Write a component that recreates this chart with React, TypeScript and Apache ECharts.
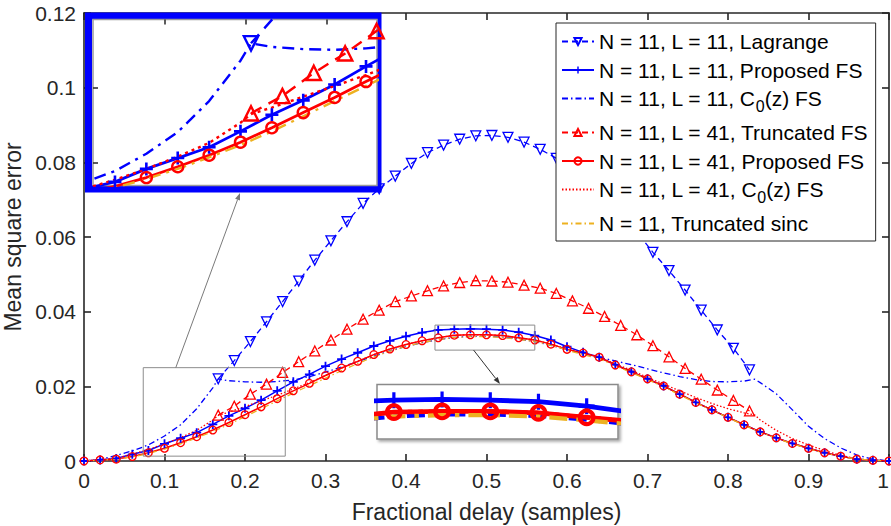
import React, { useEffect, useRef } from "react";
import * as echarts from "echarts";

// ---------------- data ----------------
const X_TICKS = [0, 0.1, 0.2, 0.3, 0.4, 0.5, 0.6, 0.7, 0.8, 0.9, 1];
const Y_TICKS = [0, 0.02, 0.04, 0.06, 0.08, 0.1, 0.12];

const NAMES = [
  "N = 11, L = 11, Lagrange",
  "N = 11, L = 11, Proposed FS",
  "N = 11, L = 11, C0(z) FS",
  "N = 11, L = 41, Truncated FS",
  "N = 11, L = 41, Proposed FS",
  "N = 11, L = 41, C0(z) FS",
  "N = 11, Truncated sinc",
];

// fractional-delay grid of the marked curves
const FD = [
  0, 0.02, 0.04, 0.06, 0.08, 0.1, 0.12, 0.14, 0.16, 0.18, 0.2, 0.22, 0.24, 0.26, 0.28, 0.3, 0.32,
  0.34, 0.36, 0.38, 0.4, 0.42, 0.44, 0.46, 0.48, 0.5, 0.52, 0.54, 0.56, 0.58, 0.6, 0.62, 0.64,
  0.66, 0.68, 0.7, 0.72, 0.74, 0.76, 0.78, 0.8, 0.82, 0.84, 0.86, 0.88, 0.9, 0.92, 0.94, 0.96,
  0.98, 1,
];

const PROP_FS_11 = [
  0, 0.0003, 0.0007, 0.0018, 0.0028, 0.0046, 0.0061, 0.0076, 0.0098, 0.0121, 0.0141, 0.0163,
  0.0188, 0.0212, 0.0232, 0.0254, 0.0273, 0.029, 0.0308, 0.0322, 0.0334, 0.0344, 0.0351, 0.0353,
  0.0354, 0.0353, 0.0351, 0.0345, 0.0336, 0.0324, 0.0306, 0.0291, 0.0278, 0.0258, 0.0239, 0.022,
  0.0201, 0.0179, 0.0157, 0.0137, 0.0117, 0.0097, 0.0078, 0.0062, 0.0047, 0.0034, 0.0022, 0.0013,
  0.0005, 0.0002, 0,
];

const PROP_FS_41 = [
  0, 0.0003, 0.0005, 0.0012, 0.0022, 0.0034, 0.0049, 0.0065, 0.0083, 0.0103, 0.0124, 0.0145,
  0.0167, 0.0188, 0.0208, 0.0229, 0.0249, 0.0267, 0.0285, 0.03, 0.0312, 0.0322, 0.033, 0.0337,
  0.0338, 0.0338, 0.0336, 0.033, 0.0324, 0.0313, 0.0299, 0.0289, 0.0278, 0.0257, 0.0239, 0.022,
  0.0201, 0.0179, 0.0157, 0.0137, 0.0117, 0.0097, 0.0078, 0.0062, 0.0047, 0.0034, 0.0022, 0.0013,
  0.0005, 0.0002, 0,
];

const TRUNC_SINC = [
  0, 0.0002, 0.0005, 0.0011, 0.002, 0.0032, 0.0046, 0.0062, 0.0079, 0.0098, 0.0119, 0.014,
  0.0161, 0.0182, 0.0202, 0.0222, 0.0242, 0.0261, 0.0279, 0.0294, 0.0307, 0.0317, 0.0325, 0.0331,
  0.0333, 0.0333, 0.0331, 0.0326, 0.032, 0.031, 0.0297, 0.0285, 0.0274, 0.0255, 0.0237, 0.0218,
  0.0199, 0.0177, 0.0156, 0.0136, 0.0116, 0.0096, 0.0077, 0.0061, 0.0046, 0.0033, 0.0021, 0.0012,
  0.0005, 0.0002, 0,
];

// grid of the Lagrange / truncated-FS curves (1/6 ... 5/6)
const LAG_X = [
  0.1667, 0.1867, 0.2067, 0.2267, 0.2467, 0.2667, 0.2867, 0.3067, 0.3267, 0.3467, 0.3667, 0.3867,
  0.4067, 0.4267, 0.4467, 0.4667, 0.4867, 0.5067, 0.5267, 0.5467, 0.5667, 0.5867, 0.6067, 0.6267,
  0.6467, 0.6667, 0.6867, 0.7067, 0.7267, 0.7467, 0.7667, 0.7867, 0.8067, 0.8267,
];
const LAGRANGE = [
  0.022, 0.0269, 0.032, 0.0373, 0.0427, 0.0482, 0.0538, 0.059, 0.0641, 0.069, 0.0729, 0.0763,
  0.0797, 0.0826, 0.0846, 0.0862, 0.0871, 0.0872, 0.0867, 0.0854, 0.0835, 0.0811, 0.0783, 0.075,
  0.0712, 0.0668, 0.0614, 0.0559, 0.051, 0.0458, 0.0404, 0.0351, 0.0302, 0.0244,
];
const TRUNC_FS_41 = [
  0.0123, 0.0147, 0.0179, 0.0206, 0.0237, 0.0266, 0.0295, 0.0324, 0.0353, 0.038, 0.0404, 0.0427,
  0.0442, 0.0456, 0.0469, 0.0478, 0.0483, 0.0482, 0.0479, 0.0471, 0.0463, 0.0449, 0.0429, 0.0409,
  0.0387, 0.0363, 0.0338, 0.0309, 0.0279, 0.0248, 0.0219, 0.019, 0.0162, 0.0134,
];

// C0(z) FS curves (kinks at 1/6 and 5/6)
const C0_X = [
  0, 0.02, 0.04, 0.06, 0.08, 0.1, 0.12, 0.14, 0.16, 0.1667, 0.18, 0.2, 0.22, 0.24, 0.26, 0.28,
  0.3, 0.32, 0.34, 0.36, 0.38, 0.4, 0.42, 0.44, 0.46, 0.48, 0.5, 0.52, 0.54, 0.56, 0.58, 0.6,
  0.62, 0.64, 0.66, 0.68, 0.7, 0.72, 0.74, 0.76, 0.78, 0.8, 0.82, 0.8333, 0.84, 0.86, 0.88, 0.9,
  0.92, 0.94, 0.96, 0.98, 1,
];
const C0_FS_11 = [
  0, 0.0004, 0.0015, 0.0027, 0.0043, 0.0067, 0.0097, 0.014, 0.0196, 0.022, 0.0215, 0.0212,
  0.0211, 0.0213, 0.0217, 0.0226, 0.0238, 0.0252, 0.0266, 0.0281, 0.0295, 0.0307, 0.0317, 0.0325,
  0.0331, 0.0334, 0.0334, 0.0332, 0.0327, 0.032, 0.031, 0.0298, 0.0287, 0.0278, 0.0268, 0.0258,
  0.0247, 0.0236, 0.0226, 0.0218, 0.0213, 0.0212, 0.0214, 0.0219, 0.021, 0.018, 0.0137, 0.0093,
  0.006, 0.0035, 0.0016, 0.0005, 0,
];
const C0_FS_41 = [
  0, 0.0003, 0.0008, 0.0018, 0.0031, 0.0046, 0.0063, 0.0082, 0.011, 0.0122, 0.0131, 0.0146,
  0.0161, 0.0176, 0.0193, 0.021, 0.0229, 0.0249, 0.0267, 0.0285, 0.03, 0.0312, 0.0322, 0.033,
  0.0337, 0.0338, 0.0338, 0.0336, 0.033, 0.0324, 0.0313, 0.03, 0.029, 0.0279, 0.026, 0.0243,
  0.0224, 0.0206, 0.0188, 0.017, 0.0154, 0.014, 0.0129, 0.0123, 0.011, 0.0082, 0.006, 0.0043,
  0.0028, 0.0015, 0.0006, 0.0001, 0,
];

// zoom regions (data units)
const BOX_A = { x: [0.0736, 0.25], y: [0.0013, 0.025] };
const INSET_A = { x: [0.066, 0.247], y: [0.0023, 0.0253] };
const INSET_A_XTICKS = [0.112, 0.1636, 0.215];
const INSET_A_YTICKS = [0.0054, 0.0158];
const BOX_B = { x: [0.436, 0.56], y: [0.0297, 0.0364] };
const INSET_B = { x: [0.453, 0.553], y: [0.0301, 0.0374] };

// ---------------- styling ----------------
const BLUE = "#0000FF";
const RED = "#FF0000";
const GOLD = "#EDB120";
const AX = "#262626";
const FONT = "'Liberation Sans', Arial, Helvetica, sans-serif";
const CROSS = "path://M4,0H6V4H10V6H6V10H4V6H0V4H4Z";

const pairs = (xs: number[], ys: number[]) => xs.map((x, i) => [x, ys[i]]);

function seriesFor(ax: number, k: number, mk: number, lw: number, z: number, suffix: string) {
  const base = (i: number) => ({
    name: NAMES[i] + suffix,
    type: "line",
    xAxisIndex: ax,
    yAxisIndex: ax,
    z,
    clip: true,
    silent: true,
    emphasis: { disabled: true },
  });
  const hollow = (c: string) => ({ color: "rgba(255,255,255,0)", borderColor: c, borderWidth: lw });
  return [
    {
      ...base(0),
      data: pairs(LAG_X, LAGRANGE),
      symbol: "triangle",
      symbolRotate: 180,
      symbolSize: mk * 1.1,
      lineStyle: { color: BLUE, width: lw, type: [6 * k, 4 * k] },
      itemStyle: hollow(BLUE),
    },
    {
      ...base(1),
      data: pairs(FD, PROP_FS_11),
      symbol: CROSS,
      symbolSize: mk,
      lineStyle: { color: BLUE, width: lw * 1.15 },
      itemStyle: { color: BLUE },
    },
    {
      ...base(2),
      data: pairs(C0_X, C0_FS_11),
      symbol: "none",
      lineStyle: { color: BLUE, width: lw, type: [6 * k, 3 * k, 1.5 * k, 3 * k] },
    },
    {
      ...base(3),
      data: pairs(LAG_X, TRUNC_FS_41),
      symbol: "triangle",
      symbolSize: mk * 1.1,
      lineStyle: { color: RED, width: lw, type: [6 * k, 4 * k] },
      itemStyle: hollow(RED),
    },
    {
      ...base(4),
      data: pairs(FD, PROP_FS_41),
      symbol: "circle",
      symbolSize: mk * 0.85,
      lineStyle: { color: RED, width: lw * 1.15 },
      itemStyle: hollow(RED),
    },
    {
      ...base(5),
      data: pairs(C0_X, C0_FS_41),
      symbol: "none",
      lineStyle: { color: RED, width: lw, type: [1.5 * k, 2 * k] },
    },
    {
      ...base(6),
      data: pairs(FD, TRUNC_SINC),
      symbol: "none",
      lineStyle: { color: GOLD, width: lw, type: [6 * k, 3 * k, 1.5 * k, 3 * k] },
    },
  ];
}

const mainX = (pos: string, labels: boolean) => ({
  type: "value",
  gridIndex: 0,
  position: pos,
  min: X_TICKS[0],
  max: X_TICKS[X_TICKS.length - 1],
  interval: X_TICKS[1] - X_TICKS[0],
  axisLine: { show: true, onZero: false, lineStyle: { color: AX, width: 1.6 } },
  axisTick: { show: true, inside: true, length: 7, lineStyle: { color: AX, width: 1.6 } },
  axisLabel: {
    show: labels,
    margin: 9,
    fontSize: 21,
    color: AX,
    fontFamily: FONT,
    alignMaxLabel: "right",
  },
  splitLine: { show: false },
  ...(labels
    ? {
        name: "Fractional delay (samples)",
        nameLocation: "middle",
        nameGap: 39,
        nameTextStyle: { fontSize: 23, color: AX, fontFamily: FONT },
      }
    : {}),
});

const mainY = (pos: string, labels: boolean) => ({
  type: "value",
  gridIndex: 0,
  position: pos,
  min: Y_TICKS[0],
  max: Y_TICKS[Y_TICKS.length - 1],
  interval: Y_TICKS[1] - Y_TICKS[0],
  axisLine: { show: true, onZero: false, lineStyle: { color: AX, width: 1.6 } },
  axisTick: { show: true, inside: true, length: 7, lineStyle: { color: AX, width: 1.6 } },
  axisLabel: { show: labels, margin: 8, fontSize: 21, color: AX, fontFamily: FONT },
  splitLine: { show: false },
  ...(labels
    ? {
        name: "Mean square error",
        nameLocation: "middle",
        nameGap: 56,
        nameTextStyle: { fontSize: 23, color: AX, fontFamily: FONT },
      }
    : {}),
});

const insetAxis = (dim: "x" | "y", grid: number, range: number[], ticks: number[] | null) => ({
  type: "value",
  gridIndex: grid,
  position: dim === "x" ? "top" : "left",
  min: range[0],
  max: range[1],
  z: 52,
  axisLine: { show: false },
  axisLabel: { show: false },
  splitLine: { show: false },
  axisTick: ticks
    ? { show: true, inside: true, length: 5, customValues: ticks, lineStyle: { color: AX, width: 1.5 } }
    : { show: false },
});

function buildOption() {
  return {
    animation: false,
    backgroundColor: "#ffffff",
    textStyle: { fontFamily: FONT },
    grid: [
      { left: 84, right: 2, top: 13, bottom: 65, containLabel: false, outerBoundsMode: "none" },
      {
        left: 93,
        top: 19.5,
        width: 284,
        height: 166,
        show: true,
        backgroundColor: "#ffffff",
        borderColor: "#9a9a9a",
        borderWidth: 1.5,
        z: 51,
        outerBoundsMode: "none",
      },
      {
        left: 377,
        top: 384.5,
        width: 241,
        height: 54.5,
        show: true,
        backgroundColor: "#ffffff",
        borderColor: "#8a8a8a",
        borderWidth: 1.5,
        shadowColor: "rgba(0,0,0,0.35)",
        shadowBlur: 3,
        shadowOffsetX: 2,
        shadowOffsetY: 2,
        z: 51,
        outerBoundsMode: "none",
      },
    ],
    xAxis: [
      mainX("bottom", true),
      mainX("top", false),
      insetAxis("x", 1, INSET_A.x, INSET_A_XTICKS),
      insetAxis("x", 2, INSET_B.x, null),
    ],
    yAxis: [
      mainY("left", true),
      mainY("right", false),
      insetAxis("y", 1, INSET_A.y, INSET_A_YTICKS),
      insetAxis("y", 2, INSET_B.y, null),
    ],
    legend: {
      data: NAMES.map((n, i) =>
        i === 2 || i === 5 || i === 6 ? { name: n, itemStyle: { opacity: 0 } } : { name: n }
      ),
      orient: "vertical",
      left: 556,
      top: 23,
      padding: [8, 7, 7, 5],
      itemGap: 7.5,
      itemWidth: 32,
      itemHeight: 9,
      backgroundColor: "#ffffff",
      borderColor: AX,
      borderWidth: 1,
      borderRadius: 0,
      selectedMode: false,
      z: 60,
      textStyle: {
        fontSize: 21,
        color: "#000000",
        fontFamily: FONT,
        rich: {
          s: { fontSize: 16, color: "#000000", fontFamily: FONT, padding: [16, 0, 0, 0] },
        },
      },
      formatter: (name: string) => {
        if (name.indexOf("C0(z)") >= 0) {
          const parts = name.split("C0");
          return parts[0] + "C{s|0}" + parts[1];
        }
        return name;
      },
    },
    series: [
      ...seriesFor(0, 1, 9, 1.3, 2, ""),
      ...seriesFor(2, 2, 13, 2.4, 53, " (inset A)"),
      ...seriesFor(3, 3, 16, 4.2, 53, " (inset B)"),
    ],
  };
}

function arrow(x1: number, y1: number, x2: number, y2: number, color: string, z: number) {
  const dx = x2 - x1;
  const dy = y2 - y1;
  const len = Math.sqrt(dx * dx + dy * dy);
  const ux = dx / len;
  const uy = dy / len;
  const hl = 7;
  const hw = 2.6;
  const bx = x2 - ux * hl;
  const by = y2 - uy * hl;
  return [
    {
      type: "line",
      z,
      silent: true,
      shape: { x1, y1, x2: bx, y2: by },
      style: { stroke: color, lineWidth: 1 },
    },
    {
      type: "polygon",
      z,
      silent: true,
      shape: {
        points: [
          [x2, y2],
          [bx - uy * hw, by + ux * hw],
          [bx + uy * hw, by - ux * hw],
        ],
      },
      style: { fill: color },
    },
  ];
}

export default function App() {
  const ref = useRef<HTMLDivElement>(null);
  useEffect(() => {
    if (!ref.current) return;
    const chart = echarts.init(ref.current, null, { renderer: "svg" });
    chart.setOption(buildOption() as any);

    const px = (x: number, y: number) =>
      chart.convertToPixel({ xAxisIndex: 0, yAxisIndex: 0 }, [x, y]) as number[];
    const a0 = px(BOX_A.x[0], BOX_A.y[1]);
    const a1 = px(BOX_A.x[1], BOX_A.y[0]);
    const b0 = px(BOX_B.x[0], BOX_B.y[1]);
    const b1 = px(BOX_B.x[1], BOX_B.y[0]);
    const aStart = px(0.114, BOX_A.y[1]);
    const bStart = px(0.484, BOX_B.y[0]);

    const graphic: any[] = [
      {
        type: "rect",
        z: 50,
        silent: true,
        shape: { x: 88.5, y: 16, width: 289.5, height: 173 },
        style: { fill: "#ffffff", stroke: BLUE, lineWidth: 7 },
      },
      {
        type: "rect",
        z: 3,
        silent: true,
        shape: { x: a0[0], y: a0[1], width: a1[0] - a0[0], height: a1[1] - a0[1] },
        style: { fill: "none", stroke: "#8c8c8c", lineWidth: 1 },
      },
      {
        type: "rect",
        z: 3,
        silent: true,
        shape: { x: b0[0], y: b0[1], width: b1[0] - b0[0], height: b1[1] - b0[1] },
        style: { fill: "none", stroke: "#8c8c8c", lineWidth: 1 },
      },
      ...arrow(aStart[0], aStart[1], 240, 193, "#7a7a7a", 3),
      ...arrow(bStart[0], bStart[1], 500, 384, "#333333", 3),
    ];
    chart.setOption({ graphic });

    return () => chart.dispose();
  }, []);
  return (
    <div
      ref={ref}
      style={{ position: "absolute", left: 0, top: 0, width: 891, height: 526 }}
    />
  );
}
